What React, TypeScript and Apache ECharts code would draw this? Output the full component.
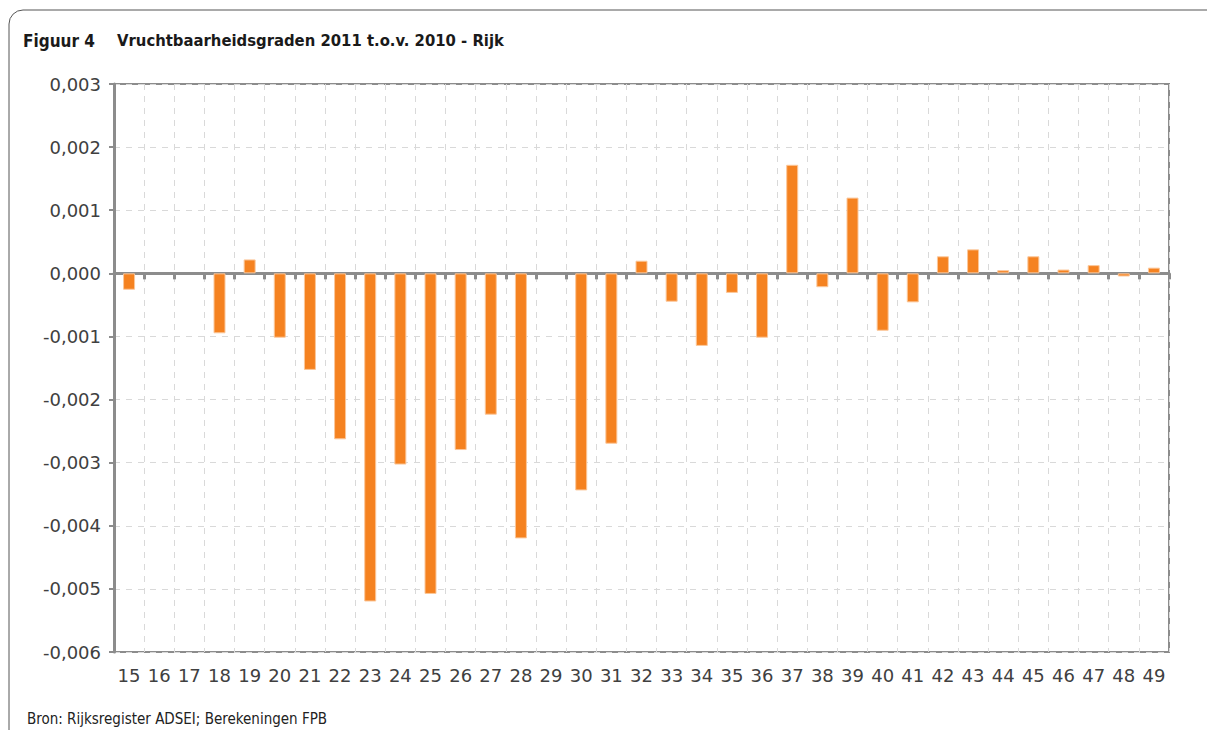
import React, { useEffect, useRef } from "react";
import * as echarts from "echarts";

const ages = ["15","16","17","18","19","20","21","22","23","24","25","26","27","28","29","30","31","32","33","34","35","36","37","38","39","40","41","42","43","44","45","46","47","48","49"];
const values = [-0.00026, 0, 0, -0.00095, 0.00022, -0.00102, -0.00153, -0.00263, -0.0052, -0.00303, -0.00508, -0.0028, -0.00224, -0.0042, 0, -0.00344, -0.0027, 0.0002, -0.00045, -0.00115, -0.00031, -0.00102, 0.00172, -0.00022, 0.0012, -0.00091, -0.00046, 0.00027, 0.00038, 0.00005, 0.00027, 0.00006, 0.00013, -0.00005, 0.00009];
const titleLabel = "Figuur 4";
const titleText = "Vruchtbaarheidsgraden 2011 t.o.v. 2010 - Rijk";
const sourceText = "Bron: Rijksregister ADSEI; Berekeningen FPB";

const FONT = "DejaVu Sans";
const FONT_C = "DejaVu Sans Condensed";

export default function App() {
  const ref = useRef<HTMLDivElement>(null);
  useEffect(() => {
    if (!ref.current) return;
    const chart = echarts.init(ref.current, null, { renderer: "svg" });
    chart.setOption({
      animation: false,
      backgroundColor: "#ffffff",
      textStyle: { fontFamily: FONT },
      graphic: [
        {
          type: "rect",
          shape: { x: 1, y: 2, width: 1213, height: 745, r: 14 },
          style: { fill: "none", stroke: "#555", lineWidth: 1 },
          silent: true,
        },
        {
          type: "text",
          left: 15,
          top: 24,
          style: { text: titleLabel, font: `bold 17px '${FONT_C}'`, fill: "#1a1a1a" },
        },
        {
          type: "text",
          left: 109,
          top: 24,
          style: { text: titleText, font: `bold 16.5px '${FONT_C}'`, fill: "#1a1a1a" },
        },
        {
          type: "text",
          left: 19,
          top: 703,
          style: { text: sourceText, font: `15px '${FONT_C}'`, fill: "#222" },
        },
      ],
      grid: {
        left: 106,
        top: 76,
        width: 1055,
        height: 568,
        show: true,
        borderColor: "#8c8c8c",
        borderWidth: 2,
        containLabel: false,
      },
      xAxis: [
        {
          type: "category",
          data: ages,
          position: "bottom",
          axisLine: { show: false },
          axisTick: { show: false },
          axisLabel: { color: "#404040", fontSize: 18, margin: 14, fontFamily: FONT, interval: 0 },
          splitLine: { show: true, lineStyle: { color: "#d9d9d9", type: [6, 6], width: 1 } },
        },
        {
          type: "category",
          data: ages,
          position: "top",
          axisLine: { show: true, onZero: true, onZeroAxisIndex: 0, lineStyle: { color: "#8c8c8c", width: 3 } },
          axisTick: { show: true, inside: true, length: 6, lineStyle: { color: "#8c8c8c", width: 3 } },
          axisLabel: { show: false },
          splitLine: { show: false },
        },
      ],
      yAxis: {
        type: "value",
        min: -0.006,
        max: 0.003,
        interval: 0.001,
        axisLine: { show: true, lineStyle: { color: "#8c8c8c", width: 3 } },
        axisTick: { show: true, length: 5, lineStyle: { color: "#8c8c8c", width: 2 } },
        axisLabel: {
          color: "#404040",
          fontSize: 18,
          margin: 13,
          fontFamily: FONT,
          formatter: (v: number) => v.toFixed(3).replace(".", ","),
        },
        splitLine: { show: true, lineStyle: { color: "#d9d9d9", type: [6, 6], width: 1 } },
      },
      series: [
        {
          type: "bar",
          data: values.map((v) => (v === 0 ? "-" : v)),
          xAxisIndex: 0,
          barWidth: 12,
          itemStyle: { color: "#f58220", borderColor: "#fbc79a", borderWidth: 1 },
        },
      ],
    });
    return () => chart.dispose();
  }, []);
  return <div ref={ref} style={{ width: 1199, height: 722 }} />;
}
